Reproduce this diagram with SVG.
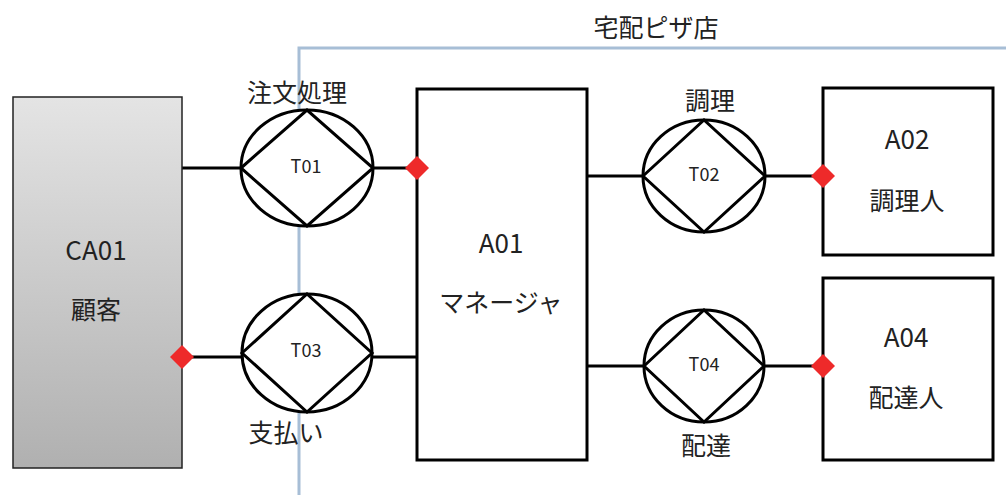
<svg xmlns="http://www.w3.org/2000/svg" width="1006" height="495" viewBox="0 0 1006 495">
<style>
text{font-family:"Meiryo","Noto Sans CJK JP","Noto Sans",sans-serif;fill:#222;text-anchor:middle;dominant-baseline:central}
.lbl{font-size:25px}
.big{font-size:26px}
.t{font-size:18px}
.box{fill:#fff;stroke:#000;stroke-width:3}
.tx{fill:#fff;stroke:#000;stroke-width:3}
.con{stroke:#000;stroke-width:3;fill:none}
.bound{stroke:#a7bed6;stroke-width:3;fill:none}
.dm{fill:#ee2a2a}
</style>
<defs>
<linearGradient id="g" x1="0" y1="0" x2="0" y2="1">
<stop offset="0" stop-color="#e4e4e4"/>
<stop offset="1" stop-color="#b0b0b0"/>
</linearGradient>
</defs>
<g id="boundary">
<path class="bound" d="M299 495 V48 H1006"/>
<text class="lbl" x="656" y="26">宅配ピザ店</text>
</g>
<g id="connectors">
<line class="con" x1="182" y1="168" x2="241" y2="168"/>
<line class="con" x1="373" y1="168" x2="417" y2="168"/>
<line class="con" x1="182" y1="357" x2="242" y2="357"/>
<line class="con" x1="372" y1="357" x2="417" y2="357"/>
<line class="con" x1="587" y1="176" x2="643" y2="176"/>
<line class="con" x1="765" y1="176" x2="823" y2="176"/>
<line class="con" x1="587" y1="366" x2="645" y2="366"/>
<line class="con" x1="764" y1="366" x2="823" y2="366"/>
</g>
<g id="CA01">
<rect x="13" y="97" width="169" height="371" fill="url(#g)" stroke="#222" stroke-width="1.5"/>
<text class="big" x="96" y="248">CA01</text>
<text class="lbl" x="96" y="308">顧客</text>
</g>
<g id="T01">
<ellipse class="tx" cx="307" cy="168" rx="66" ry="58"/>
<path class="con" d="M241 168 L307 110 L373 168 L307 226 Z"/>
<text class="t" x="306" y="165">T01</text>
<text class="lbl" x="297" y="91">注文処理</text>
</g>
<g id="T03">
<ellipse class="tx" cx="307" cy="353" rx="65" ry="59"/>
<path class="con" d="M242 353 L307 294 L372 353 L307 412 Z"/>
<text class="t" x="306" y="349">T03</text>
<text class="lbl" x="286" y="431">支払い</text>
</g>
<g id="A01">
<rect class="box" x="417" y="89" width="170" height="371"/>
<text class="big" x="501" y="241">A01</text>
<text class="lbl" x="501" y="301">マネージャ</text>
</g>
<g id="T02">
<ellipse class="tx" cx="704" cy="176" rx="61" ry="56"/>
<path class="con" d="M643 176 L704 120 L765 176 L704 232 Z"/>
<text class="t" x="704" y="173">T02</text>
<text class="lbl" x="710" y="99">調理</text>
</g>
<g id="A02">
<rect class="box" x="823" y="88" width="170" height="167"/>
<text class="big" x="907" y="137">A02</text>
<text class="lbl" x="907" y="199">調理人</text>
</g>
<g id="T04">
<ellipse class="tx" cx="704" cy="366" rx="60" ry="56"/>
<path class="con" d="M644 366 L704 310 L764 366 L704 422 Z"/>
<text class="t" x="704" y="363">T04</text>
<text class="lbl" x="706" y="444">配達</text>
</g>
<g id="A04">
<rect class="box" x="823" y="278" width="170" height="182"/>
<text class="big" x="906" y="335">A04</text>
<text class="lbl" x="906" y="396">配達人</text>
</g>
<g id="diamonds">
<path class="dm" d="M182 345 L194 357 L182 369 L170 357 Z"/>
<path class="dm" d="M417 156 L429 168 L417 180 L405 168 Z"/>
<path class="dm" d="M823 164 L835 176 L823 188 L811 176 Z"/>
<path class="dm" d="M823 354 L835 366 L823 378 L811 366 Z"/>
</g>
</svg>
